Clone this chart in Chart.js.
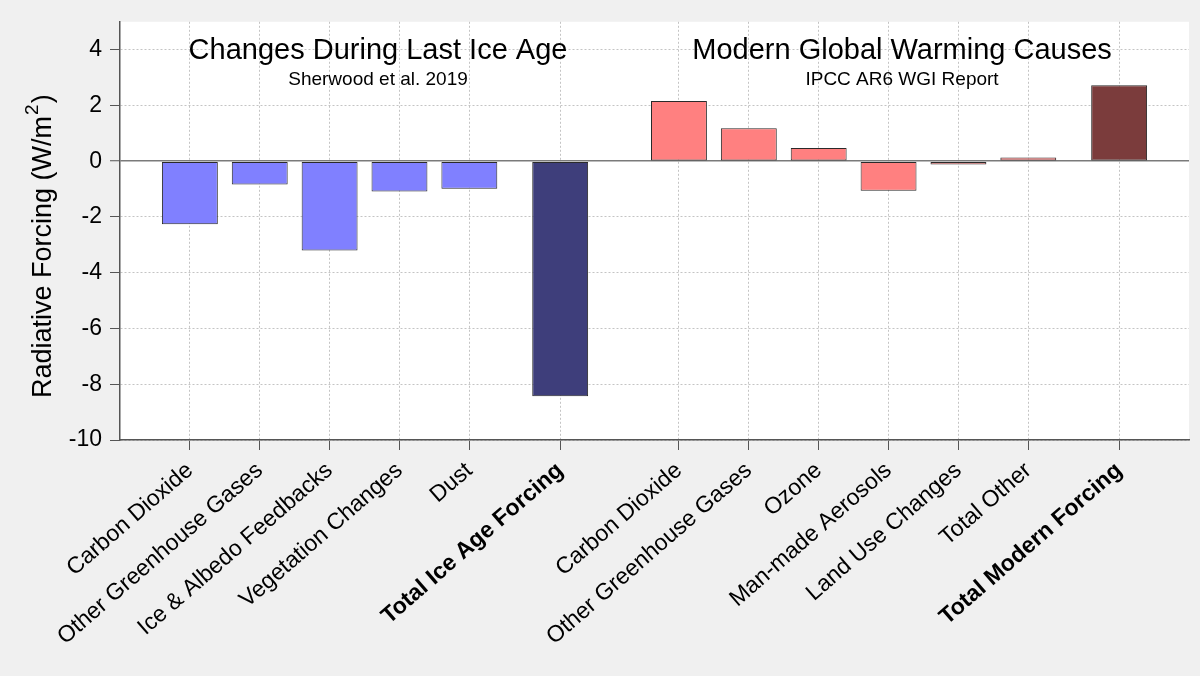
<!DOCTYPE html>
<html>
<head>
<meta charset="utf-8">
<title>Radiative Forcing</title>
<script src="https://cdn.jsdelivr.net/npm/chart.js@4.4.1/dist/chart.umd.min.js"></script>
<style>
  html, body { margin: 0; padding: 0; background: #f0f0f0; }
  canvas { display: block; }
</style>
</head>
<body>
<canvas id="forcingChart" width="1200" height="676"></canvas>
<script>
// Data
const categories = [
    'Carbon Dioxide', 'Other Greenhouse Gases', 'Ice & Albedo Feedbacks',
    'Vegetation Changes', 'Dust', 'Total Ice Age Forcing',
    'Carbon Dioxide', 'Other Greenhouse Gases', 'Ozone', 'Man-made Aerosols',
    'Land Use Changes', 'Total Other', 'Total Modern Forcing'
];
const xPositions = [1, 2, 3, 4, 5, 6.3, 8, 9, 10, 11, 12, 13, 14.3];
const forcing = [-2.26, -0.84, -3.2, -1.09, -0.99, -8.43, 2.16, 1.18, 0.47, -1.06, -0.12, 0.13, 2.72];
const groupOf = [0, 0, 0, 0, 0, 0, 1, 1, 1, 1, 1, 1, 1];
const totalIndex = [5, 12];
const groupTitles = ['Changes During Last Ice Age', 'Modern Global Warming Causes'];
const groupSources = ['Sherwood et al. 2019', 'IPCC AR6 WGI Report'];
const yMin = -10, yMax = 5, yStep = 2;
const xMin = 0, xMax = 15.3;

const FONT = "'Liberation Sans', Arial, Helvetica, sans-serif";
const partColors = ['#8080ff', '#ff8080'];
const totalColors = ['#3e3e7b', '#7b3c3c'];

const barColors = forcing.map((v, i) =>
    totalIndex.includes(i) ? totalColors[groupOf[i]] : partColors[groupOf[i]]);

// white plotting area on the grey page
const plotBackground = {
    id: 'plotBackground',
    beforeDraw(chart) {
        const { ctx, chartArea: a } = chart;
        ctx.save();
        ctx.fillStyle = '#ffffff';
        ctx.fillRect(a.left, a.top, a.right - a.left, a.bottom - a.top);
        ctx.restore();
    }
};

// panel headings centred over each group of bars
const groupHeadings = {
    id: 'groupHeadings',
    afterDatasetsDraw(chart) {
        const { ctx, chartArea: a } = chart;
        const xs = chart.scales.x;
        ctx.save();
        ctx.fillStyle = '#000';
        ctx.textAlign = 'center';
        ctx.textBaseline = 'alphabetic';
        groupTitles.forEach((title, g) => {
            const members = xPositions.filter((p, i) => groupOf[i] === g);
            const cx = (xs.getPixelForValue(members[0]) + xs.getPixelForValue(members[members.length - 1])) / 2 + 3;
            ctx.font = '29px ' + FONT;
            ctx.fillText(title, cx, a.top + 37);
            ctx.font = '19px ' + FONT;
            ctx.fillText(groupSources[g], cx, a.top + 63);
        });
        ctx.restore();
    }
};

// y axis title with a real superscript
const yTitle = {
    id: 'yTitle',
    afterDraw(chart) {
        const { ctx } = chart;
        ctx.save();
        ctx.translate(51, 398);
        ctx.rotate(-Math.PI / 2);
        ctx.fillStyle = '#000';
        ctx.textAlign = 'left';
        ctx.textBaseline = 'alphabetic';
        ctx.font = '27px ' + FONT;
        const main = 'Radiative Forcing (W/m';
        ctx.fillText(main, 0, 0);
        let x = ctx.measureText(main).width;
        ctx.font = '19px ' + FONT;
        ctx.fillText('2', x + 1, -13);
        x += ctx.measureText('2').width + 2;
        ctx.font = '27px ' + FONT;
        ctx.fillText(')', x, 0);
        ctx.restore();
    }
};

Chart.defaults.font.family = FONT;
Chart.defaults.color = '#000';

const ctxBar = document.getElementById('forcingChart').getContext('2d');
const forcingChart = new Chart(ctxBar, {
    type: 'bar',
    data: {
        datasets: [{
            label: 'Radiative Forcing',
            data: forcing.map((v, i) => ({ x: xPositions[i], y: v })),
            backgroundColor: barColors,
            borderColor: '#2a2a2a',
            borderWidth: 1,
            borderSkipped: false,
            categoryPercentage: 0.8,
            barPercentage: 1.0
        }]
    },
    options: {
        responsive: false,
        animation: false,
        layout: { padding: { top: 20, right: 11, left: 0, bottom: 0 } },
        plugins: {
            legend: { display: false },
            tooltip: { enabled: false }
        },
        scales: {
            x: {
                type: 'linear',
                min: xMin,
                max: xMax,
                offset: false,
                afterBuildTicks: scale => {
                    scale.ticks = xPositions.map(v => ({ value: v }));
                },
                afterFit: scale => {
                    scale.height = 236;
                    scale.paddingLeft = 0;
                    scale.paddingRight = 0;
                },
                ticks: {
                    autoSkip: false,
                    minRotation: 41,
                    maxRotation: 41,
                    padding: 7,
                    callback: (value, index) => categories[index],
                    font: ctx => ({
                        family: FONT,
                        size: 23,
                        weight: totalIndex.includes(ctx.index) ? 'bold' : 'normal'
                    })
                },
                grid: {
                    offset: false,
                    color: '#c4c4c4',
                    lineWidth: 1,
                    tickLength: 10,
                    tickColor: '#555',
                    tickBorderDash: [],
                    tickWidth: 1
                },
                border: {
                    color: '#555',
                    width: 1.5,
                    dash: c => c.type === 'tick' ? [2, 2] : []
                }
            },
            y: {
                min: yMin,
                max: yMax,
                afterFit: scale => {
                    scale.width = 120;
                },
                ticks: {
                    stepSize: yStep,
                    includeBounds: false,
                    padding: 8,
                    font: { size: 23 }
                },
                grid: {
                    color: c => (c.tick && c.tick.value === 0) ? '#7a7a7a' : '#c4c4c4',
                    lineWidth: c => (c.tick && c.tick.value === 0) ? 1.5 : 1,
                    tickLength: 10,
                    tickColor: '#555',
                    tickBorderDash: [],
                    tickWidth: 1
                },
                border: {
                    color: '#555',
                    width: 1.5,
                    dash: c => (c.type === 'tick' && c.tick.value !== 0) ? [2, 2] : []
                }
            }
        }
    },
    plugins: [plotBackground, groupHeadings, yTitle]
});
</script>
</body>
</html>
